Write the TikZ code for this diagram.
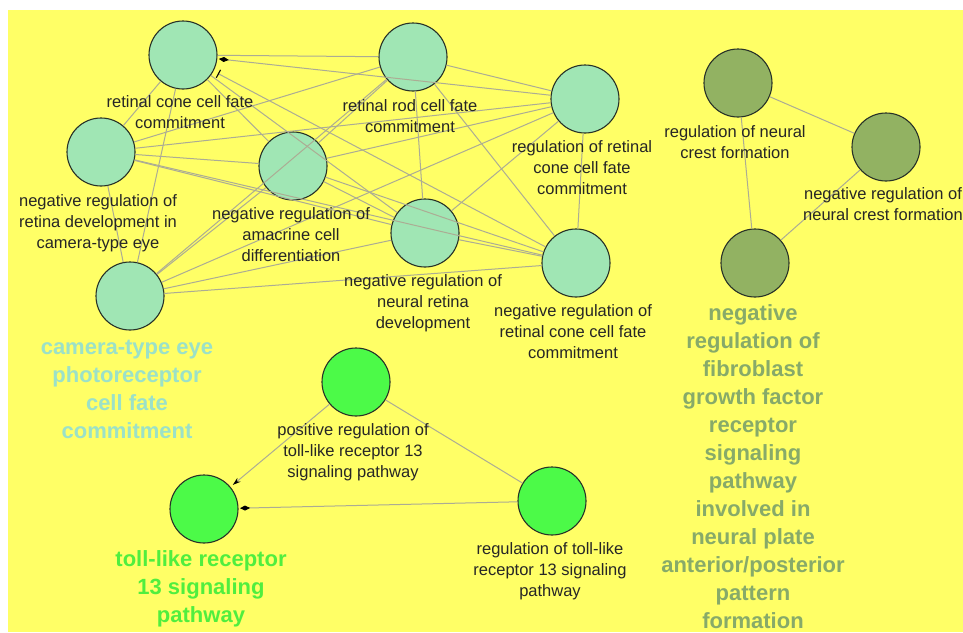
\documentclass[tikz,border=0pt]{standalone}
\usepackage{fontspec}
\setmainfont{Liberation Sans}
\usetikzlibrary{arrows.meta}
\definecolor{bgyellow}{RGB}{255,255,102}
\definecolor{mintfill}{RGB}{160,230,180}
\definecolor{olivefill}{RGB}{146,178,98}
\definecolor{tlrfill}{RGB}{76,250,72}
\definecolor{edgegray}{RGB}{172,172,148}
\definecolor{mintlabel}{RGB}{155,225,200}
\definecolor{tlrlabel}{RGB}{80,238,62}
\definecolor{olivelabel}{RGB}{135,170,105}
\definecolor{nodeborder}{RGB}{40,50,40}
\begin{document}
\begin{tikzpicture}[x=1pt,y=-1pt,
  term/.style={circle, draw=nodeborder, line width=1.1pt, minimum size=68pt, inner sep=0pt},
  lbl/.style={align=center, font=\fontsize{16.5}{21}\selectfont, text=black!85, inner sep=0pt, anchor=north},
  biglbl/.style={align=center, font=\fontsize{22}{28}\selectfont\bfseries, inner sep=0pt, anchor=north},
  edge/.style={draw=edgegray, line width=1pt},
  regarrow/.style={-{Kite[length=10pt,width=5pt,inset=5pt,color=black]}, shorten >=1.5pt},
  posarrow/.style={-{Stealth[length=8pt,width=5pt,color=black]}, shorten >=3pt},
  negbar/.style={-{Bar[width=9pt,line width=1.1pt,color=black]}, shorten >=5pt},
]
\fill[white] (0,0) rectangle (963,632);
\fill[bgyellow] (8,10) rectangle (963,632);
\useasboundingbox (0,0) rectangle (963,632);

% cluster 1 nodes
\node[term, fill=mintfill] (A) at (183,55) {};
\node[term, fill=mintfill] (B) at (413,57) {};
\node[term, fill=mintfill] (C) at (585,99) {};
\node[term, fill=mintfill] (D) at (101,152) {};
\node[term, fill=mintfill] (E) at (293,166) {};
\node[term, fill=mintfill] (F) at (425,233) {};
\node[term, fill=mintfill] (G) at (130,296) {};
\node[term, fill=mintfill] (H) at (576,263) {};
% cluster 2 nodes
\node[term, fill=olivefill] (I) at (738,83) {};
\node[term, fill=olivefill] (J) at (886,147) {};
\node[term, fill=olivefill] (K) at (755,263) {};
% cluster 3 nodes
\node[term, fill=tlrfill] (L) at (356,382) {};
\node[term, fill=tlrfill] (M) at (204,509) {};
\node[term, fill=tlrfill] (N) at (552,501) {};

% cluster 1 edges
\foreach \u/\v in {A/B,A/D,A/E,A/F,A/G,
                   B/C,B/D,B/E,B/F,B/G,B/H,
                   C/D,C/E,C/F,C/G,C/H,
                   D/E,D/F,D/G,D/H,
                   E/F,E/G,E/H,
                   F/G,F/H,
                   G/H}
  \draw[edge] (\u) -- (\v);
\draw[edge, regarrow] (C) -- (A);
\draw[edge, negbar] (H) -- (A);
% cluster 2 edges
\draw[edge] (I) -- (J);
\draw[edge] (I) -- (K);
\draw[edge] (J) -- (K);
% cluster 3 edges
\draw[edge] (L) -- (N);
\draw[edge, posarrow] (L) -- (M);
\draw[edge, regarrow] (N) -- (M);

% labels
\node[lbl] (lA) at (180,95) {retinal cone cell fate\\commitment};
\node[lbl] (lB) at (410,99) {retinal rod cell fate\\commitment};
\node[lbl] (lC) at (582,140) {regulation of retinal\\cone cell fate\\commitment};
\node[lbl] (lD) at (98,194) {negative regulation of\\retina development in\\camera-type eye};
\node[lbl] (lE) at (291,207) {negative regulation of\\amacrine cell\\differentiation};
\node[lbl] (lF) at (423,274) {negative regulation of\\neural retina\\development};
\node[lbl] (lH) at (573,304) {negative regulation of\\retinal cone cell fate\\commitment};
\node[lbl] (lI) at (735,125) {regulation of neural\\crest formation};
\node[lbl] (lJ) at (883,187) {negative regulation of\\neural crest formation};
\node[lbl] (lL) at (353,423) {positive regulation of\\toll-like receptor 13\\signaling pathway};
\node[lbl] (lN) at (550,542) {regulation of toll-like\\receptor 13 signaling\\pathway};

\node[biglbl, text=mintlabel] (lG) at (127,340) {camera-type eye\\photoreceptor\\cell fate\\commitment};
\node[biglbl, text=tlrlabel] (lM) at (201,550.6) {toll-like receptor\\13 signaling\\pathway};
\node[biglbl, text=olivelabel] (lK) at (753,304.8) {negative\\regulation of\\fibroblast\\growth factor\\receptor\\signaling\\pathway\\involved in\\neural plate\\anterior/posterior\\pattern\\formation};
\end{tikzpicture}
\end{document}
